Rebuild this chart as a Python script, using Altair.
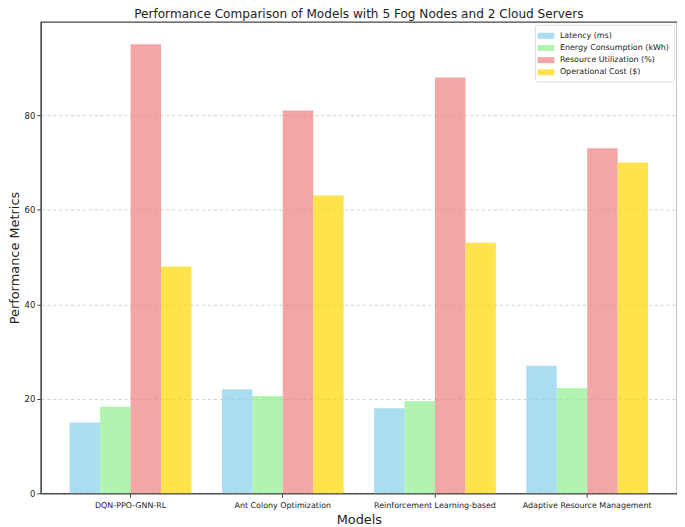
import altair as alt
import pandas as pd

models = ["DQN-PPO-GNN-RL", "Ant Colony Optimization", "Reinforcement Learning-based", "Adaptive Resource Management"]
metrics = ["Latency (ms)", "Energy Consumption (kWh)", "Resource Utilization (%)", "Operational Cost ($)"]
latency = [15, 22, 18, 27]
energy = [18.3, 20.6, 19.5, 22.3]
resource = [95, 81, 88, 73]
cost = [48, 63, 53, 70]
colors = ["#87CEEB", "#90EE90", "#F08080", "#FFD700"]

rows = []
for series, vals in zip(metrics, [latency, energy, resource, cost]):
    for m, v in zip(models, vals):
        rows.append({"Model": m, "Metric": series, "Value": v})
df = pd.DataFrame(rows)

font = "DejaVu Sans"

chart = alt.Chart(df).mark_bar(opacity=0.7).encode(
    x=alt.X("Model:N", sort=models,
            scale=alt.Scale(paddingInner=0.2, paddingOuter=0.19),
            axis=alt.Axis(title="Models", labelAngle=0, labelFontSize=8, titleFontSize=13,
                          titleFontWeight="normal", labelColor="#222", titleColor="#222",
                          tickColor="#444", domainColor="#444", tickSize=4, labelPadding=4,
                          titlePadding=4, grid=False, labelFont=font, titleFont=font)),
    xOffset=alt.XOffset("Metric:N", sort=metrics, scale=alt.Scale(paddingInner=0, paddingOuter=0)),
    y=alt.Y("Value:Q", scale=alt.Scale(domain=[0, 99.75], nice=False),
            axis=alt.Axis(title="Performance Metrics", values=[0, 20, 40, 60, 80], labelFontSize=8.5,
                          titleFontSize=13, titleFontWeight="normal", labelColor="#222",
                          titleColor="#222", tickColor="#444", domainColor="#444", tickSize=4,
                          labelPadding=2, titlePadding=3, grid=True, gridDash=[3, 3],
                          gridColor="#c4c4c4", gridWidth=0.8, labelFont=font, titleFont=font)),
    color=alt.Color("Metric:N", sort=metrics,
                    scale=alt.Scale(domain=metrics, range=colors),
                    legend=alt.Legend(title=None, orient="top-right", offset=3,
                                      fillColor="white", strokeColor="#dddddd",
                                      padding=5, labelFontSize=8, labelFont=font,
                                      labelColor="#222", symbolType="M-1.4,-0.5H1.4V0.5H-1.4Z",
                                      symbolSize=144, symbolOpacity=0.7, symbolStrokeWidth=0,
                                      rowPadding=2.3, labelOffset=8, cornerRadius=2)),
).properties(
    width=641, height=475, padding={"top": -3, "left": 0, "right": 0, "bottom": 0},
    title=alt.TitleParams("Performance Comparison of Models with 5 Fog Nodes and 2 Cloud Servers",
                          fontSize=12.2, fontWeight="normal", font=font, color="#222", offset=2),
).configure_view(stroke="#444", strokeWidth=1.2)

chart.save("out.html", embed_options={"renderer": "svg", "actions": False})
